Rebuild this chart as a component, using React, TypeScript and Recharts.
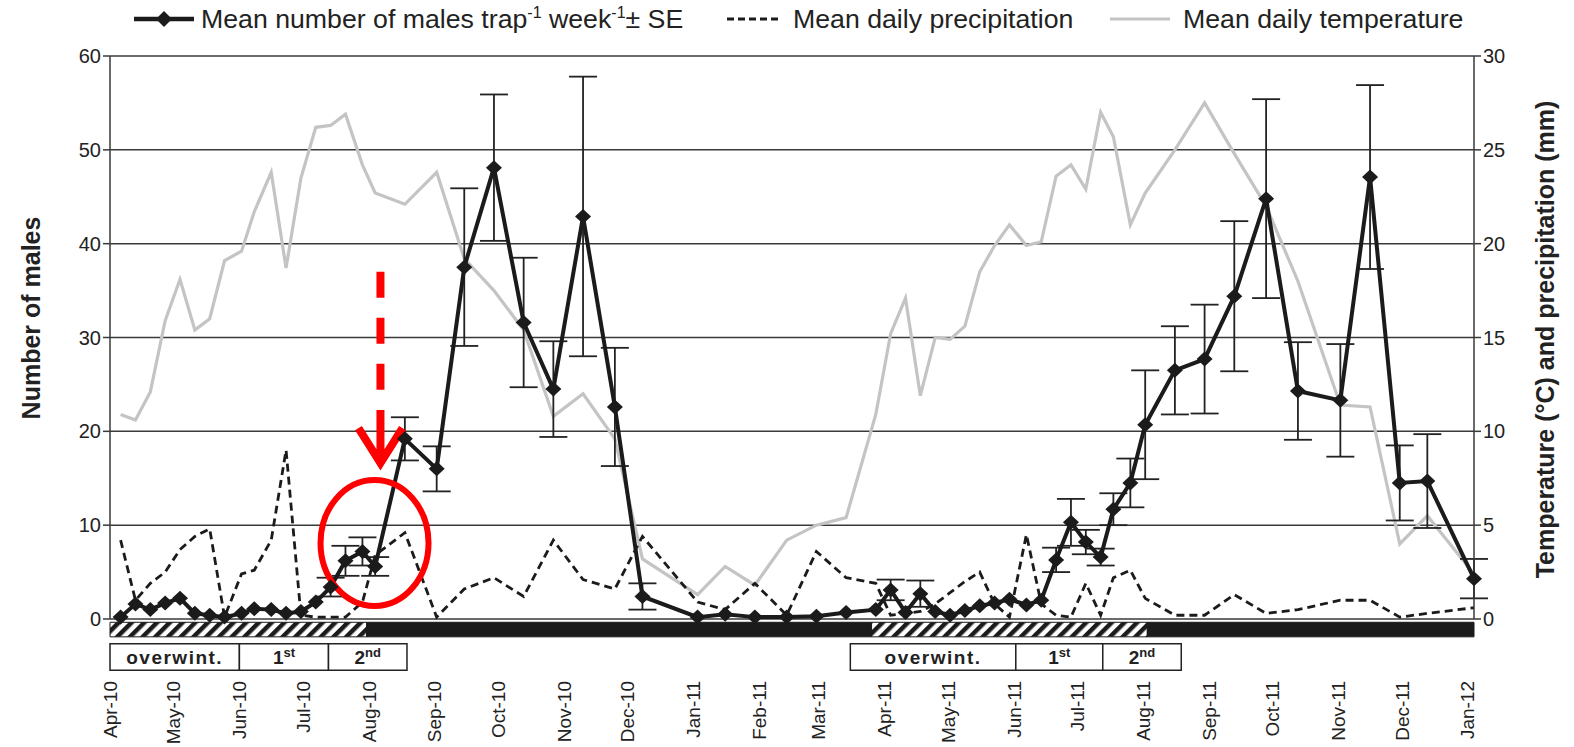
import React from 'react';
import {
  ComposedChart,
  Line,
  XAxis,
  YAxis,
  CartesianGrid,
  ErrorBar,
  ReferenceArea,
  ReferenceLine,
  ReferenceDot,
} from 'recharts';

// x values are days since 1 Apr 2010
const sampleDays = [
  5, 12, 19, 26, 33, 40, 47, 54, 62, 68, 76, 83, 90, 97, 104, 111, 119, 125, 139, 154,
  167, 181, 195, 209, 223, 238, 251, 277, 290, 304, 319, 333, 347, 361, 368, 375, 382,
  389, 396, 403, 410, 417, 424, 432, 439, 446, 453, 460, 467, 473, 481, 488, 502, 516,
  530, 545, 560, 580, 594, 608, 621, 643,
];

const males = [
  0.2, 1.6, 1.0, 1.7, 2.2, 0.6, 0.4, 0.2, 0.6, 1.1, 1.0, 0.6, 0.8, 1.8, 3.4, 6.2, 7.2, 5.6, 19.2, 16.0,
  37.5, 48.1, 31.6, 24.5, 42.9, 22.6, 2.4, 0.2, 0.5, 0.2, 0.2, 0.3, 0.7, 1.0, 3.1, 0.7, 2.7,
  0.8, 0.4, 0.9, 1.4, 1.7, 2.1, 1.5, 2.0, 6.3, 10.3, 8.2, 6.6, 11.7, 14.5, 20.7, 26.5, 27.7,
  34.4, 44.8, 24.3, 23.3, 47.1, 14.5, 14.7, 4.3,
];

const malesSE = [
  0, 0, 0, 0, 0, 0, 0, 0, 0, 0, 0, 0, 0, 0, 1.0, 1.6, 1.5, 1.0, 2.3, 2.4,
  8.4, 7.8, 6.9, 5.1, 14.9, 6.3, 1.4, 0, 0, 0, 0, 0, 0, 0, 1.1, 0, 1.4,
  0, 0, 0, 0, 0, 0, 0, 0, 1.3, 2.5, 1.3, 0.9, 1.7, 2.6, 5.8, 4.7, 5.8,
  8.0, 10.6, 5.2, 6.0, 9.8, 4.0, 5.0, 2.1,
];

const temperature = [
  10.9, 10.6, 12.1, 15.9, 18.1, 15.4, 16.0, 19.1, 19.6, 21.7, 23.8, 18.7, 23.5, 26.2, 26.3, 26.9, 24.2, 22.7, 22.1, 23.8,
  19.2, 17.5, 15.4, 10.8, 12.0, 9.6, 3.2, 1.3, 2.8, 1.8, 4.2, 5.0, 5.4, 10.9, 15.2, 17.1, 11.9,
  15.0, 14.9, 15.6, 18.5, 19.9, 21.0, 19.9, 20.1, 23.6, 24.2, 22.9, 27.0, 25.7, 21.0, 22.7, 25.0, 27.5,
  24.8, 22.0, 18.0, 11.4, 11.3, 4.0, 5.5, 2.4,
];

const precipitation = [
  4.2, 1.0, 1.9, 2.5, 3.7, 4.4, 4.8, 0.1, 2.4, 2.6, 4.2, 9.0, 0.2, 0.1, 0.1, 0.1, 0.9, 3.4, 4.6, 0.1,
  1.6, 2.2, 1.2, 4.2, 2.1, 1.6, 4.4, 0.9, 0.5, 1.9, 0.2, 3.6, 2.2, 1.9, 0.2, 0.3, 0.4,
  0.8, 1.4, 2.0, 2.5, 0.8, 0.1, 4.5, 0.8, 0.2, 0.1, 1.9, 0.2, 2.2, 2.6, 1.1, 0.2, 0.2,
  1.3, 0.3, 0.5, 1.0, 1.0, 0.1, 0.3, 0.6,
];

const monthTicks = [0, 30, 61, 91, 122, 153, 183, 214, 244, 275, 306, 334, 365, 395, 426, 456, 487, 518, 548, 579, 609, 640];
const monthLabels = [
  'Apr-10', 'May-10', 'Jun-10', 'Jul-10', 'Aug-10', 'Sep-10', 'Oct-10', 'Nov-10', 'Dec-10', 'Jan-11', 'Feb-11',
  'Mar-11', 'Apr-11', 'May-11', 'Jun-11', 'Jul-11', 'Aug-11', 'Sep-11', 'Oct-11', 'Nov-11', 'Dec-11', 'Jan-12',
];

const maleTicks = [0, 10, 20, 30, 40, 50, 60];
const climateTicks = [0, 5, 10, 15, 20, 25, 30];

// hatched = flight of overwintering/1st/2nd generation, solid = rest
const phaseStart = [0, 121, 359, 489];
const phaseEnd = [121, 359, 489, 643];
const phaseHatched = [true, false, true, false];

const stageStart = [0, 61, 103, 349, 427, 468];
const stageEnd = [61, 103, 140, 427, 468, 505];
const stageText = ['overwint.', '1', '2', 'overwint.', '1', '2'];
const stageSup = ['', 'st', 'nd', '', 'st', 'nd'];

const FONT = '"Liberation Sans", Arial, sans-serif';

const rows = sampleDays.map((day, i) => ({
  day,
  males: males[i],
  se: malesSE[i],
  temp: temperature[i],
  precip: precipitation[i],
}));

const Diamond = (props: any) => {
  const { cx, cy, index } = props;
  if (cx == null || cy == null) return <g key={`dm-${index}`} />;
  return (
    <polygon
      key={`dm-${index}`}
      points={`${cx},${cy - 7.5} ${cx + 8},${cy} ${cx},${cy + 7.5} ${cx - 8},${cy}`}
      fill="#1b1b1b"
    />
  );
};

const MonthTick = (props: any) => {
  const { x, y, payload } = props;
  const idx = monthTicks.indexOf(payload.value);
  const yy = y + 54;
  return (
    <text
      x={x}
      y={yy}
      transform={`rotate(-90, ${x}, ${yy})`}
      dy="0.36em"
      textAnchor="end"
      fontSize={19}
      fontFamily={FONT}
      fill="#222"
    >
      {monthLabels[idx]}
    </text>
  );
};

const StageLabel = (text: string, sup: string) => (props: any) => {
  const { viewBox } = props;
  const cx = viewBox.x + viewBox.width / 2;
  const cy = viewBox.y + viewBox.height / 2 + 7;
  return (
    <text x={cx} y={cy} textAnchor="middle" fontSize={19} fontWeight="bold" fontFamily={FONT} fill="#222" letterSpacing={sup ? 0 : 1.5}>
      {text}
      {sup ? (
        <tspan fontSize={13} dy={-7}>
          {sup}
        </tspan>
      ) : null}
    </text>
  );
};

const LeftTitle = (props: any) => {
  const { viewBox } = props;
  const x = viewBox.x + 31;
  const y = 318;
  return (
    <text x={x} y={y} transform={`rotate(-90, ${x}, ${y})`} textAnchor="middle" dy="0.36em" fontSize={25} fontWeight="bold" fontFamily={FONT} fill="#222">
      Number of males
    </text>
  );
};

const RightTitle = (props: any) => {
  const { viewBox } = props;
  const x = viewBox.x + 71;
  const y = viewBox.y + viewBox.height / 2 + 2;
  return (
    <text x={x} y={y} transform={`rotate(-90, ${x}, ${y})`} textAnchor="middle" dy="0.36em" fontSize={25} fontWeight="bold" fontFamily={FONT} fill="#222">
      Temperature (°C) and precipitation (mm)
    </text>
  );
};

const ArrowHead = (props: any) => {
  const { cx, cy } = props;
  return (
    <path
      d={`M${cx},${cy - 56} L${cx},${cy - 3} M${cx - 22},${cy - 38} L${cx},${cy - 3} L${cx + 22},${cy - 38}`}
      stroke="#ff0000"
      strokeWidth={8}
      fill="none"
    />
  );
};

const Ring = (props: any) => {
  const { cx, cy } = props;
  return <ellipse cx={cx} cy={cy} rx={54} ry={63} stroke="#ff0000" strokeWidth={6} fill="none" />;
};

const Legend = () => (
  <svg width={1574} height={44} style={{ position: 'absolute', left: 0, top: 0 }}>
    <line x1={134} y1={19} x2={194} y2={19} stroke="#1b1b1b" strokeWidth={4.5} />
    <polygon points="164,11 172,19 164,27 156,19" fill="#1b1b1b" />
    <text x={201} y={28} fontSize={26.7} fontFamily={FONT} fill="#222">
      Mean number of males trap
      <tspan fontSize={16} dy={-10}>-1</tspan>
      <tspan dy={10}> week</tspan>
      <tspan fontSize={16} dy={-10}>-1</tspan>
      <tspan dy={10}>± SE</tspan>
    </text>
    <line x1={727} y1={19} x2={780} y2={19} stroke="#1b1b1b" strokeWidth={2.8} strokeDasharray="7 4" />
    <text x={793} y={28} fontSize={26.7} fontFamily={FONT} fill="#222">
      Mean daily precipitation
    </text>
    <line x1={1110} y1={19} x2={1170} y2={19} stroke="#c4c4c4" strokeWidth={3.2} />
    <text x={1183} y={28} fontSize={26.7} fontFamily={FONT} fill="#222">
      Mean daily temperature
    </text>
  </svg>
);

export default function App() {
  return (
    <div style={{ position: 'absolute', left: 0, top: 0, width: 1574, height: 747, background: '#fff' }}>
      <svg width={0} height={0} style={{ position: 'absolute' }}>
        <defs>
          <pattern id="hatch" patternUnits="userSpaceOnUse" width={9} height={9} patternTransform="rotate(45)">
            <rect x={0} y={0} width={9} height={9} fill="#fff" />
            <rect x={0} y={0} width={4.5} height={9} fill="#1b1b1b" />
          </pattern>
        </defs>
      </svg>
      <Legend />
      <ComposedChart width={1574} height={747} data={rows} margin={{ top: 56, right: 0, bottom: 0, left: 0 }}>
        <CartesianGrid vertical={false} stroke="#3a3a3a" strokeWidth={1.5} />
        <XAxis
          dataKey="day"
          type="number"
          domain={[0, 643]}
          ticks={monthTicks}
          interval={0}
          tick={<MonthTick />}
          tickLine={false}
          axisLine={false}
          height={128}
        />
        <YAxis
          domain={[0, 60]}
          ticks={maleTicks}
          width={110}
          stroke="#3a3a3a"
          strokeWidth={1.5}
          tickSize={7}
          tick={{ fontSize: 20, fill: '#222', fontFamily: FONT }}
          label={<LeftTitle />}
        />
        <YAxis
          yAxisId="right"
          orientation="right"
          domain={[0, 30]}
          ticks={climateTicks}
          width={100}
          stroke="#3a3a3a"
          strokeWidth={1.5}
          tickSize={7}
          tick={{ fontSize: 20, fill: '#222', fontFamily: FONT }}
          label={<RightTitle />}
        />

        {phaseStart.map((s, i) => (
          <ReferenceArea
            key={`ph-${i}`}
            x1={s}
            x2={phaseEnd[i]}
            y1={-0.35}
            y2={-1.9}
            ifOverflow="visible"
            fill={phaseHatched[i] ? 'url(#hatch)' : '#1b1b1b'}
            fillOpacity={1}
            stroke="#1b1b1b"
            strokeWidth={1}
          />
        ))}
        {stageStart.map((s, i) => (
          <ReferenceArea
            key={`st-${i}`}
            x1={s}
            x2={stageEnd[i]}
            y1={-2.65}
            y2={-5.45}
            ifOverflow="visible"
            fill="#fff"
            fillOpacity={1}
            stroke="#222"
            strokeWidth={1.5}
            label={StageLabel(stageText[i], stageSup[i])}
          />
        ))}

        <Line
          yAxisId="right"
          dataKey="temp"
          stroke="#c4c4c4"
          strokeWidth={3.2}
          dot={false}
          isAnimationActive={false}
        />
        <Line
          yAxisId="right"
          dataKey="precip"
          stroke="#1b1b1b"
          strokeWidth={2.8}
          strokeDasharray="8 5"
          dot={false}
          isAnimationActive={false}
        />
        <Line
          dataKey="males"
          stroke="#1b1b1b"
          strokeWidth={4}
          dot={(p: any) => <Diamond key={`dm-${p.index}`} {...p} />}
          isAnimationActive={false}
        >
          <ErrorBar dataKey="se" width={14} strokeWidth={1.8} stroke="#222" direction="y" isAnimationActive={false} />
        </Line>

        <ReferenceLine
          segment={[
            { x: 127.5, y: 37 },
            { x: 127.5, y: 24.4 },
          ]}
          stroke="#ff0000"
          strokeWidth={8}
          strokeDasharray="26 20"
          ifOverflow="visible"
        />
        <ReferenceDot x={127.5} y={16.3} shape={ArrowHead} ifOverflow="visible" />
        <ReferenceDot x={124.7} y={8.1} shape={Ring} ifOverflow="visible" />
      </ComposedChart>
    </div>
  );
}
